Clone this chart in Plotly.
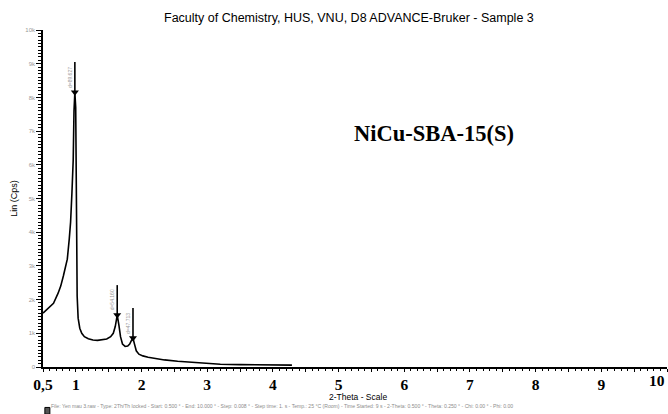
import plotly.graph_objects as go

# ---- data ----
two_theta = [0.50, 0.55, 0.60, 0.66, 0.73, 0.77, 0.81, 0.84, 0.87, 0.90, 0.92, 0.94, 0.96,
             0.972, 0.985, 0.998, 1.01, 1.02, 1.035, 1.06, 1.09, 1.13, 1.19, 1.26, 1.33,
             1.40, 1.47, 1.53, 1.57, 1.60, 1.63, 1.655, 1.68, 1.71, 1.75, 1.79, 1.82,
             1.845, 1.87, 1.89, 1.92, 1.96, 2.02, 2.10, 2.20, 2.35, 2.55, 2.75, 2.95,
             3.20, 3.50, 3.80, 4.10, 4.29]
intensity = [1600, 1700, 1800, 1890, 2190, 2400, 2700, 2950, 3200, 3800, 4300, 5150, 6140,
             7600, 8150, 7700, 5000, 2100, 1450, 1150, 1000, 900, 840, 800, 790,
             800, 830, 900, 1000, 1200, 1540, 1250, 900, 680, 610, 620, 680,
             780, 860, 700, 480, 380, 330, 290, 250, 210, 170, 140, 100,
             80, 70, 65, 60, 55]

peak_pos = [0.985, 1.63, 1.87]
peak_int = [8150, 1540, 860]
peak_top = [9050, 2430, 1750]
peak_labels = ["d=89.627", "d=54.160", "d=47.713"]

x_label_alias = {"0.5": "0,5", "1.5": "", "2.5": "", "3.5": "", "4.5": "", "5.5": "",
                 "6.5": "", "7.5": "", "8.5": "", "9.5": ""}
x_last_label = "10"

title_text = "Faculty of Chemistry, HUS, VNU, D8 ADVANCE-Bruker - Sample 3"
sample_text = "NiCu-SBA-15(S)"
x_title = "2-Theta - Scale"
y_title = "Lin (Cps)"
footer_text = ("File: Yen mau 3.raw - Type: 2Th/Th locked - Start: 0.500 \u00b0 - End: 10.000 \u00b0 - "
               "Step: 0.008 \u00b0 - Step time: 1. s - Temp.: 25 \u00b0C (Room) - Time Started: 9 s - "
               "2-Theta: 0.500 \u00b0 - Theta: 0.250 \u00b0 - Chi: 0.00 \u00b0 - Phi: 0.00")

fig = go.Figure()
fig.add_trace(go.Scatter(x=two_theta, y=intensity, mode="lines",
                         line=dict(color="black", width=1.6), showlegend=False,
                         hoverinfo="skip"))

for p, yi, yt, lab in zip(peak_pos, peak_int, peak_top, peak_labels):
    fig.add_trace(go.Scatter(x=[p, p], y=[yi, yt], mode="lines",
                             line=dict(color="black", width=1.6), showlegend=False))
    fig.add_trace(go.Scatter(x=[p], y=[yi], mode="markers",
                             marker=dict(symbol="triangle-down", size=7, color="black"),
                             showlegend=False))
    fig.add_annotation(x=p, y=(yi + yt) / 2, xref="x", yref="y", text=lab,
                       textangle=-90, showarrow=False, xshift=-5,
                       font=dict(size=5, color="#9a9a9a", family="Liberation Sans"))

fig.add_annotation(x=0.626, y=0.735, xref="paper", yref="paper", text="<b>" + sample_text + "</b>",
                   showarrow=False, font=dict(size=22.5, color="black", family="Liberation Serif"))

fig.add_annotation(x=0.49, y=1.0, xref="paper", yref="paper", yanchor="bottom", yshift=3,
                   text=title_text, showarrow=False,
                   font=dict(size=12.5, color="black", family="Liberation Sans"))

fig.add_annotation(x=0.505, y=-0.089, xref="paper", yref="paper", yanchor="middle",
                   text=x_title, showarrow=False,
                   font=dict(size=8.5, color="black", family="Liberation Sans"))

fig.add_annotation(x=10, y=0, xref="x", yref="paper", xanchor="right", yanchor="top", yshift=-3,
                   text="<b>" + x_last_label + "</b>", showarrow=False,
                   font=dict(size=15.5, color="black", family="Liberation Serif"))

fig.add_annotation(x=0.009, y=-0.130, xref="paper", yref="paper", xanchor="left",
                   text=footer_text, showarrow=False,
                   font=dict(size=5.1, color="#8c8c8c", family="Liberation Sans"))
fig.add_shape(type="rect", xref="paper", yref="paper", x0=0.003, x1=0.011, y0=-0.140, y1=-0.120,
              line=dict(color="black", width=1), fillcolor="#555555")

fig.update_layout(
    width=668, height=414,
    margin=dict(l=43, r=1, t=30, b=47),
    paper_bgcolor="white", plot_bgcolor="white",
    xaxis=dict(range=[0.5, 10], tickmode="linear", tick0=0.5, dtick=0.5,
               labelalias=x_label_alias,
               ticks="outside", ticklen=3, tickwidth=1.2, tickcolor="black",
               showline=True, linecolor="black", linewidth=1.5, showgrid=False, zeroline=False,
               tickfont=dict(family="Liberation Serif", size=15.5, color="black", weight="bold"),
               minor=dict(tick0=0.5, dtick=0.1, ticks="outside", ticklen=2, tickcolor="black",
                          tickwidth=1, showgrid=False)),
    yaxis=dict(range=[0, 10000], tickmode="linear", tick0=0, dtick=1000,
               ticks="outside", ticklen=5, tickwidth=1.2, tickcolor="black",
               showline=True, linecolor="black", linewidth=1.5, showgrid=False, zeroline=False,
               tickfont=dict(family="Liberation Sans", size=6, color="#999999"),
               minor=dict(tick0=0, dtick=100, ticks="outside", ticklen=3, tickcolor="black",
                          tickwidth=1, showgrid=False),
               title=dict(text=y_title, standoff=6,
                          font=dict(family="Liberation Sans", size=9, color="black"))),
)

fig.write_html("out.html")
